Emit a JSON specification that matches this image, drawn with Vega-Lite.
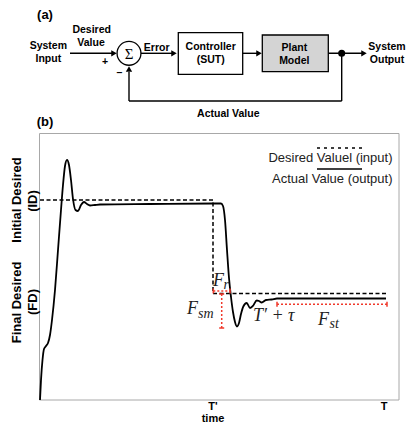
{
  "$schema": "https://vega.github.io/schema/vega-lite/v6.json",
  "width": 409,
  "height": 424,
  "autosize": {"type": "fit", "contains": "padding"},
  "padding": 0,
  "background": "white",
  "config": {"view": {"stroke": null}},
  "datasets": {
    "frame": [{"x": 39.5, "y": 133.5, "x2": 399, "y2": 400}],
    "ctrlbox": [{"x": 178.3, "y": 32.7, "x2": 242.7, "y2": 74.3}],
    "plantbox": [{"x": 262.3, "y": 35, "x2": 328.3, "y2": 71.7}],
    "wires": [
      {"x": 70, "y": 53.3, "x2": 113, "y2": 53.3},
      {"x": 141, "y": 53.3, "x2": 173, "y2": 53.3},
      {"x": 242.7, "y": 53.3, "x2": 257, "y2": 53.3},
      {"x": 328.3, "y": 53.3, "x2": 362, "y2": 53.3},
      {"x": 341.7, "y": 53.3, "x2": 341.7, "y2": 101},
      {"x": 129, "y": 101, "x2": 341.7, "y2": 101},
      {"x": 129, "y": 101, "x2": 129, "y2": 72}
    ],
    "arrowsRight": [
      {"x": 114, "y": 53.3},
      {"x": 174, "y": 53.3},
      {"x": 259, "y": 53.3},
      {"x": 364, "y": 53.3}
    ],
    "arrowsUp": [{"x": 129, "y": 69}],
    "sum": [{"x": 129, "y": 53.3}],
    "junction": [{"x": 341.7, "y": 53.3}],
    "desired": [
      {"i": 1, "x": 40, "y": 200},
      {"i": 2, "x": 213, "y": 200},
      {"i": 3, "x": 213, "y": 293.5},
      {"i": 4, "x": 386, "y": 293.5}
    ],
    "actual": [
      {"x": 40, "y": 400}, {"x": 41, "y": 380}, {"x": 42.5, "y": 360}, {"x": 44, "y": 349},
      {"x": 46, "y": 346}, {"x": 48, "y": 343}, {"x": 50, "y": 335}, {"x": 52, "y": 320},
      {"x": 55, "y": 290}, {"x": 58, "y": 250}, {"x": 61, "y": 210}, {"x": 63, "y": 185},
      {"x": 65, "y": 166}, {"x": 67, "y": 160}, {"x": 69, "y": 165}, {"x": 71, "y": 180},
      {"x": 73, "y": 199}, {"x": 75.5, "y": 210}, {"x": 78, "y": 211}, {"x": 81, "y": 205},
      {"x": 84, "y": 202}, {"x": 87, "y": 204}, {"x": 90, "y": 205.5}, {"x": 95, "y": 205},
      {"x": 100, "y": 204.5}, {"x": 150, "y": 204}, {"x": 213, "y": 203.5}, {"x": 221, "y": 203.5},
      {"x": 223, "y": 206}, {"x": 225, "y": 220}, {"x": 227, "y": 250}, {"x": 229, "y": 278},
      {"x": 231, "y": 297}, {"x": 233, "y": 312}, {"x": 235, "y": 322}, {"x": 237, "y": 326.5},
      {"x": 239, "y": 323}, {"x": 241, "y": 314}, {"x": 243.3, "y": 306.5}, {"x": 246.7, "y": 303},
      {"x": 250, "y": 308}, {"x": 253.3, "y": 305.5}, {"x": 256.7, "y": 300.5}, {"x": 259, "y": 301},
      {"x": 261.7, "y": 302.5}, {"x": 266, "y": 300}, {"x": 271.7, "y": 299.5}, {"x": 277, "y": 298.5},
      {"x": 300, "y": 298.5}, {"x": 386, "y": 298.5}
    ],
    "legendDash": [{"x": 317, "y": 148, "x2": 363, "y2": 148}],
    "legendSolid": [{"x": 317, "y": 169, "x2": 362, "y2": 169}],
    "redDotted": [
      {"x": 213.3, "y": 291, "x2": 230, "y2": 291},
      {"x": 221.7, "y": 294, "x2": 221.7, "y2": 328},
      {"x": 277, "y": 304.3, "x2": 387, "y2": 304.3}
    ],
    "redCaps": [
      {"x": 213.3, "y": 288.5, "x2": 213.3, "y2": 293.5},
      {"x": 230, "y": 288.5, "x2": 230, "y2": 293.5},
      {"x": 219.2, "y": 294, "x2": 224.2, "y2": 294},
      {"x": 219.2, "y": 328, "x2": 224.2, "y2": 328},
      {"x": 277, "y": 301.8, "x2": 277, "y2": 306.8},
      {"x": 387, "y": 301.8, "x2": 387, "y2": 306.8}
    ],
    "labels": [
      {"x": 48.3, "y": 46, "text": "System"},
      {"x": 48.3, "y": 59, "text": "Input"},
      {"x": 91.7, "y": 30, "text": "Desired"},
      {"x": 91, "y": 43.3, "text": "Value"},
      {"x": 105, "y": 61.7, "text": "+"},
      {"x": 119.3, "y": 72.5, "text": "–"},
      {"x": 156.7, "y": 48, "text": "Error"},
      {"x": 210.7, "y": 46.7, "text": "Controller"},
      {"x": 210.7, "y": 60, "text": "(SUT)"},
      {"x": 294.3, "y": 48.3, "text": "Plant"},
      {"x": 294.3, "y": 60.7, "text": "Model"},
      {"x": 387, "y": 46.7, "text": "System"},
      {"x": 387, "y": 60, "text": "Output"},
      {"x": 228.3, "y": 114, "text": "Actual Value"}
    ],
    "ticks": [
      {"x": 213, "y": 406.5, "text": "T'"},
      {"x": 384, "y": 406.5, "text": "T"},
      {"x": 213, "y": 418.5, "text": "time"}
    ],
    "heads": [
      {"x": 45, "y": 15, "text": "(a)"},
      {"x": 45, "y": 122, "text": "(b)"}
    ],
    "ylabels": [
      {"x": 17, "y": 200, "text": "Initial Desired"},
      {"x": 33, "y": 201, "text": "(ID)"},
      {"x": 17, "y": 302.5, "text": "Final Desired"},
      {"x": 33, "y": 302, "text": "(FD)"}
    ],
    "legendText": [
      {"x": 392.5, "y": 158, "text": "Desired Valuel (input)"},
      {"x": 392.5, "y": 178.5, "text": "Actual Value (output)"}
    ],
    "mathMain": [
      {"x": 213, "y": 281, "text": "F"},
      {"x": 187, "y": 309, "text": "F"},
      {"x": 318, "y": 320, "text": "F"},
      {"x": 253, "y": 316, "text": "T′ + τ"}
    ],
    "mathSub": [
      {"x": 223.5, "y": 285, "text": "r"},
      {"x": 198, "y": 314, "text": "sm"},
      {"x": 329.5, "y": 324, "text": "st"}
    ],
    "sigma": [{"x": 129, "y": 53.8, "text": "Σ"}]
  },
  "encoding": {
    "x": {"field": "x", "type": "quantitative", "axis": null, "scale": {"domain": [0, 409], "nice": false, "zero": false}},
    "y": {"field": "y", "type": "quantitative", "axis": null, "scale": {"domain": [0, 424], "nice": false, "zero": false, "reverse": true}}
  },
  "layer": [
    {"data": {"name": "frame"}, "mark": {"type": "rect", "fill": "transparent", "stroke": "#a8a8a8", "strokeWidth": 1},
     "encoding": {"x2": {"field": "x2"}, "y2": {"field": "y2"}}},
    {"data": {"name": "ctrlbox"}, "mark": {"type": "rect", "fill": "white", "stroke": "black", "strokeWidth": 1.3},
     "encoding": {"x2": {"field": "x2"}, "y2": {"field": "y2"}}},
    {"data": {"name": "plantbox"}, "mark": {"type": "rect", "fill": "#d4d4d4", "stroke": "black", "strokeWidth": 1.3},
     "encoding": {"x2": {"field": "x2"}, "y2": {"field": "y2"}}},
    {"data": {"name": "wires"}, "mark": {"type": "rule", "color": "black", "strokeWidth": 1.4},
     "encoding": {"x2": {"field": "x2"}, "y2": {"field": "y2"}}},
    {"data": {"name": "arrowsRight"}, "mark": {"type": "point", "shape": "triangle-right", "filled": true, "color": "black", "size": 40, "opacity": 1}},
    {"data": {"name": "arrowsUp"}, "mark": {"type": "point", "shape": "triangle-up", "filled": true, "color": "black", "size": 40, "opacity": 1}},
    {"data": {"name": "sum"}, "mark": {"type": "point", "shape": "circle", "filled": true, "fill": "white", "stroke": "black", "strokeWidth": 1.3, "size": 570, "opacity": 1}},
    {"data": {"name": "junction"}, "mark": {"type": "point", "shape": "circle", "filled": true, "color": "black", "size": 50, "opacity": 1}},
    {"data": {"name": "desired"}, "mark": {"type": "line", "color": "black", "strokeWidth": 1.5, "strokeDash": [4, 2.5]},
     "encoding": {"order": {"field": "i", "type": "quantitative"}}},
    {"data": {"name": "actual"}, "mark": {"type": "line", "color": "black", "strokeWidth": 1.8, "interpolate": "monotone"}},
    {"data": {"name": "legendDash"}, "mark": {"type": "rule", "color": "black", "strokeWidth": 1.5, "strokeDash": [3, 4]},
     "encoding": {"x2": {"field": "x2"}, "y2": {"field": "y2"}}},
    {"data": {"name": "legendSolid"}, "mark": {"type": "rule", "color": "black", "strokeWidth": 1.5},
     "encoding": {"x2": {"field": "x2"}, "y2": {"field": "y2"}}},
    {"data": {"name": "redDotted"}, "mark": {"type": "rule", "color": "#f0392b", "strokeWidth": 1.5, "strokeDash": [2, 2]},
     "encoding": {"x2": {"field": "x2"}, "y2": {"field": "y2"}}},
    {"data": {"name": "redCaps"}, "mark": {"type": "rule", "color": "#f0392b", "strokeWidth": 1.5},
     "encoding": {"x2": {"field": "x2"}, "y2": {"field": "y2"}}},
    {"data": {"name": "labels"}, "mark": {"type": "text", "font": "Liberation Sans", "fontWeight": "bold", "fontSize": 10.5, "align": "center", "baseline": "middle", "color": "black"},
     "encoding": {"text": {"field": "text"}}},
    {"data": {"name": "ticks"}, "mark": {"type": "text", "font": "Liberation Sans", "fontWeight": "bold", "fontSize": 11, "align": "center", "baseline": "middle", "color": "black"},
     "encoding": {"text": {"field": "text"}}},
    {"data": {"name": "heads"}, "mark": {"type": "text", "font": "Liberation Sans", "fontWeight": "bold", "fontSize": 13, "align": "center", "baseline": "middle", "color": "black"},
     "encoding": {"text": {"field": "text"}}},
    {"data": {"name": "ylabels"}, "mark": {"type": "text", "font": "Liberation Sans", "fontWeight": "bold", "fontSize": 13, "align": "center", "baseline": "middle", "angle": 270, "color": "black"},
     "encoding": {"text": {"field": "text"}}},
    {"data": {"name": "legendText"}, "mark": {"type": "text", "font": "Liberation Sans", "fontSize": 13, "align": "right", "baseline": "middle", "color": "#222222"},
     "encoding": {"text": {"field": "text"}}},
    {"data": {"name": "mathMain"}, "mark": {"type": "text", "font": "Liberation Serif", "fontStyle": "italic", "fontSize": 18, "align": "left", "baseline": "middle", "color": "#222222"},
     "encoding": {"text": {"field": "text"}}},
    {"data": {"name": "mathSub"}, "mark": {"type": "text", "font": "Liberation Serif", "fontStyle": "italic", "fontSize": 14, "align": "left", "baseline": "middle", "color": "#222222"},
     "encoding": {"text": {"field": "text"}}},
    {"data": {"name": "sigma"}, "mark": {"type": "text", "font": "Liberation Serif", "fontSize": 15, "align": "center", "baseline": "middle", "color": "black"},
     "encoding": {"text": {"field": "text"}}}
  ]
}
